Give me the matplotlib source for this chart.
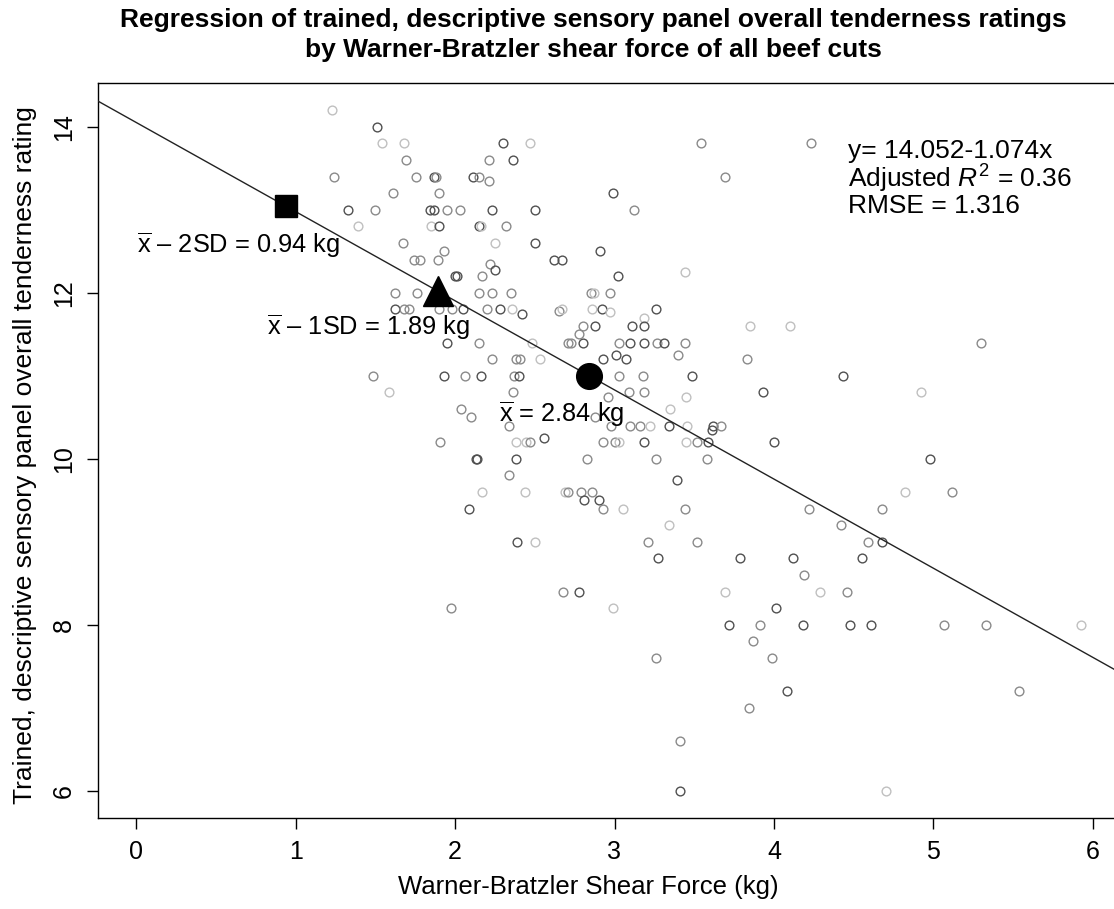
import numpy as np
import matplotlib.pyplot as plt

plt.rcParams['font.family'] = ['Liberation Sans', 'DejaVu Sans']
plt.rcParams['mathtext.fontset'] = 'custom'
plt.rcParams['mathtext.rm'] = 'Liberation Sans'
plt.rcParams['mathtext.it'] = 'Liberation Sans:italic'

# shear force (kg), tenderness rating, shade of the point (d/m/l)
wbsf = [1.225, 1.51, 1.54, 1.68, 1.69, 1.24, 1.755, 1.865, 1.88, 1.613, 1.90, 1.33, 1.50, 1.843, 1.865,
        1.95, 2.03, 1.39, 1.85, 1.90, 1.674, 1.93, 1.74, 1.78, 1.89, 2.01, 2.00, 1.62, 1.76, 1.62, 1.68,
        1.71, 1.90, 1.98,
        2.30, 2.47, 3.54, 2.215, 2.365, 2.115, 2.15, 2.21, 2.99, 2.23, 2.50, 3.12, 2.15, 2.165, 2.32,
        2.25, 2.50, 2.91, 2.62, 2.67, 2.22, 2.25, 2.17, 3.02, 3.44, 2.15, 2.23, 2.35, 2.85, 2.87, 2.97,
        2.05, 2.20, 2.28, 2.355, 2.42, 2.65, 2.67, 2.86, 2.92, 2.97, 3.26, 3.185,
        1.95, 2.15, 2.48, 2.71, 2.73, 2.80, 2.80, 2.88, 2.78, 3.03, 3.10, 3.185, 3.265, 3.31, 3.44, 3.11,
        3.185, 3.40, 2.23, 2.38, 2.41, 2.53, 2.93, 3.01, 3.07, 1.93, 2.06, 2.16, 2.37, 2.40, 3.03, 3.18,
        3.485, 2.365, 2.96, 3.09, 3.185, 3.45, 2.04, 2.10, 3.35, 2.34, 2.88, 2.98, 3.10, 3.16, 3.22, 3.34,
        3.455, 1.906, 2.38, 2.445, 2.47, 2.555, 2.93, 3.00, 3.03, 3.185, 3.45, 3.52, 2.13, 2.14, 2.38,
        2.83, 3.26, 2.34, 3.39, 2.17, 2.44, 2.69, 2.71, 2.79, 2.86, 2.81, 2.905, 2.09, 2.93, 3.055, 3.44,
        3.34,
        1.486, 1.586,
        3.85, 4.10, 5.30, 3.83, 4.435, 3.93, 4.92, 3.62, 3.67, 3.61, 3.585, 4.00, 3.58, 4.98, 4.82, 5.12,
        4.22, 4.68, 4.42,
        3.52, 4.59, 4.68, 3.79, 4.12, 4.55, 4.19, 3.695, 4.29, 4.46, 4.01, 3.72, 3.91, 4.18, 4.48, 4.61,
        5.07, 5.33, 5.925, 3.87, 3.99, 5.54, 4.08, 3.845, 3.41, 3.41, 4.70,
        2.39, 2.50, 3.21, 3.275, 2.68, 2.78, 1.975, 2.99, 3.26,
        4.235, 3.695]
rating = [14.2, 14.0, 13.8, 13.8, 13.6, 13.4, 13.4, 13.4, 13.4, 13.2, 13.2, 13.0, 13.0, 13.0, 13.0,
          13.0, 13.0, 12.8, 12.8, 12.8, 12.6, 12.5, 12.4, 12.4, 12.4, 12.2, 12.2, 12.0, 12.0, 11.8, 11.8,
          11.8, 11.8, 11.8,
          13.8, 13.8, 13.8, 13.6, 13.6, 13.4, 13.4, 13.35, 13.2, 13.0, 13.0, 13.0, 12.8, 12.8, 12.8,
          12.6, 12.6, 12.5, 12.4, 12.4, 12.35, 12.27, 12.2, 12.2, 12.25, 12.0, 12.0, 12.0, 12.0, 12.0, 12.0,
          11.8, 11.8, 11.8, 11.8, 11.75, 11.78, 11.8, 11.8, 11.8, 11.77, 11.8, 11.7,
          11.4, 11.4, 11.4, 11.4, 11.4, 11.4, 11.6, 11.6, 11.5, 11.4, 11.4, 11.4, 11.4, 11.4, 11.4, 11.6,
          11.6, 11.25, 11.2, 11.2, 11.2, 11.2, 11.2, 11.25, 11.2, 11.0, 11.0, 11.0, 11.0, 11.0, 11.0, 11.0,
          11.0, 10.8, 10.75, 10.8, 10.8, 10.75, 10.6, 10.5, 10.6, 10.4, 10.5, 10.4, 10.4, 10.4, 10.4, 10.4,
          10.4, 10.2, 10.2, 10.2, 10.2, 10.25, 10.2, 10.2, 10.2, 10.2, 10.2, 10.2, 10.0, 10.0, 10.0,
          10.0, 10.0, 9.8, 9.75, 9.6, 9.6, 9.6, 9.6, 9.6, 9.6, 9.5, 9.5, 9.4, 9.4, 9.4, 9.4,
          9.2,
          11.0, 10.8,
          11.6, 11.6, 11.4, 11.2, 11.0, 10.8, 10.8, 10.4, 10.4, 10.35, 10.2, 10.2, 10.0, 10.0, 9.6, 9.6,
          9.4, 9.4, 9.2,
          9.0, 9.0, 9.0, 8.8, 8.8, 8.8, 8.6, 8.4, 8.4, 8.4, 8.2, 8.0, 8.0, 8.0, 8.0, 8.0,
          8.0, 8.0, 8.0, 7.8, 7.6, 7.2, 7.2, 7.0, 6.6, 6.0, 6.0,
          9.0, 9.0, 9.0, 8.8, 8.4, 8.4, 8.2, 8.2, 7.6,
          13.8, 13.4]
shade = list("ldllmmmdmm" "mdmddmmlld" "mmmmmddmmd" "mmmm"
             "dlmmddmmdd" "dmdlmldddd" "mdmdlmmmml" "mdmdldmlld" "ldl"
             "dmlmmdmdmm" "ddmdmddmmm" "mlddddmdmd" "mmdmmmmlmm"
             "lmmmmmldlm" "llmdmmldlm" "dddmmmdlll" "mmmdddmlml"
             "ml"
             "llmmddldmd" "ddmdlmmmm"
             "mmddddmllm" "ddmdddmmlm" "mmdmmdl"
             "dlmdmdmlm"
             "mm")

# regression and the marked points
intercept, slope = 14.052, -1.074
mark_x = [0.94, 1.89, 2.84]
mark_lab = [r"$\overline{\mathrm{x}}$ – 2SD = 0.94 kg",
            r"$\overline{\mathrm{x}}$ – 1SD = 1.89 kg",
            r"$\overline{\mathrm{x}}$ = 2.84 kg"]
lab_x = [0.64, 1.455, 2.67]
lab_y = [12.57, 11.58, 10.54]

grey = {'d': '#505050', 'm': '#8a8a8a', 'l': '#c0c0c0'}

fig = plt.figure(figsize=(11.14, 9.09), dpi=100)
ax = fig.add_axes([98 / 1114, 1 - 818 / 909, (1131 - 98) / 1114, (818 - 83) / 909])
ax.set_xlim(-0.24, 6.24)
ax.set_ylim(5.672, 14.528)

n = min(len(wbsf), len(rating), len(shade))
for i in range(n):
    ax.plot(wbsf[i], rating[i], 'o', mfc='none', mec=grey[shade[i]], ms=6.3, mew=1.0, zorder=2)

xx = np.array([-0.24, 6.24])
ax.plot(xx, intercept + slope * xx, color='#222222', lw=1.0, zorder=3)

for xm, mk, ms in zip(mark_x, ['s', '^', 'o'], [16, 22, 18.5]):
    ax.plot(xm, intercept + slope * xm, mk, color='black', ms=ms, zorder=4)
for t, tx, ty in zip(mark_lab, lab_x, lab_y):
    ax.text(tx, ty, t, fontsize=18.3, ha='center', va='center', zorder=5)

ax.text(4.464, 13.71, "y= 14.052-1.074x", fontsize=19, va='center')
ax.text(4.464, 13.37, r"Adjusted $R^2$ = 0.36", fontsize=19, va='center')
ax.text(4.464, 13.05, "RMSE = 1.316", fontsize=19, va='center')

ax.set_xticks([0, 1, 2, 3, 4, 5, 6])
ax.set_yticks([6, 8, 10, 12, 14])
ax.set_yticklabels(['6', '8', '10', '12', '14'], rotation=90, va='center')
ax.tick_params(labelsize=18, length=8, width=1, direction='out', pad=8)
for s in ax.spines.values():
    s.set_linewidth(1.0)

fig.text(593 / 1114, 1 - 20 / 909, "Regression of trained, descriptive sensory panel overall tenderness ratings",
         fontsize=19, fontweight='bold', ha='center', va='center')
fig.text(593 / 1114, 1 - 50 / 909, "by Warner-Bratzler shear force of all beef cuts",
         fontsize=19, fontweight='bold', ha='center', va='center')
fig.text(588 / 1114, 1 - 887 / 909, "Warner-Bratzler Shear Force (kg)", fontsize=18.5, ha='center', va='center')
fig.text(25 / 1114, 1 - 455 / 909, "Trained, descriptive sensory panel overall tenderness rating",
         fontsize=19, ha='center', va='center', rotation=90)

fig.savefig("out.png", dpi=100)
